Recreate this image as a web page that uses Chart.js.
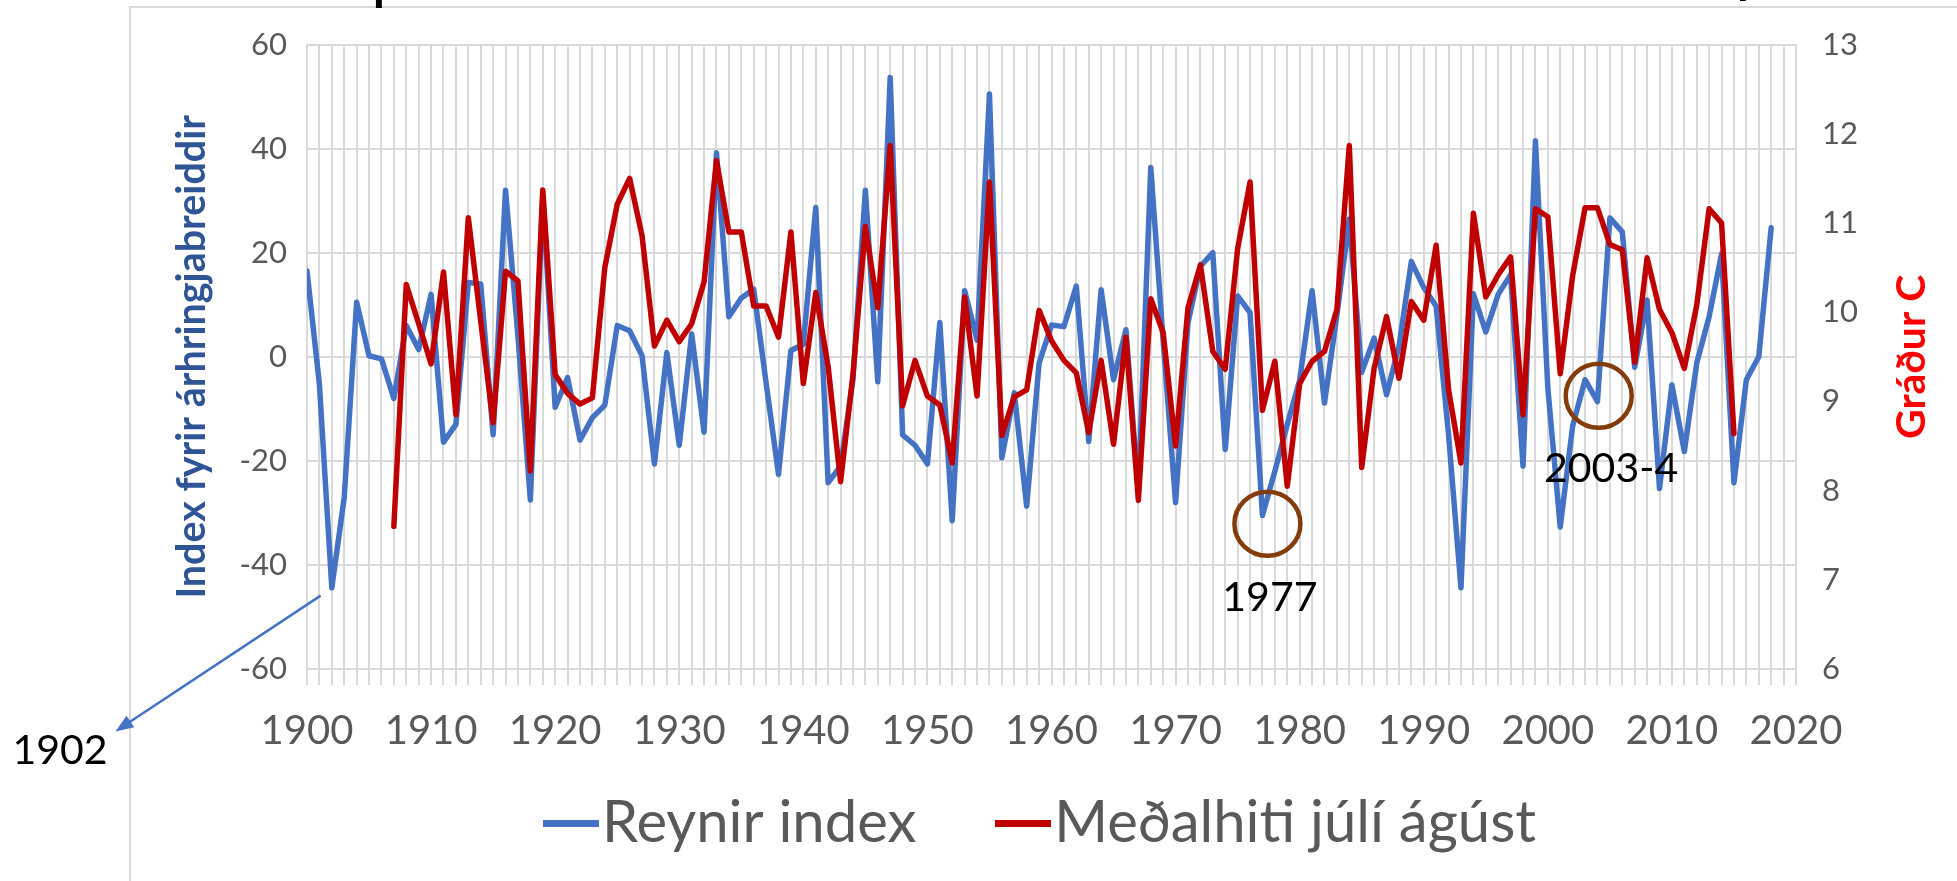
<!DOCTYPE html>
<html>
<head>
<meta charset="utf-8">
<script src="https://cdn.jsdelivr.net/npm/chart.js@4.4.0/dist/chart.umd.min.js"></script>
<style>
html,body{margin:0;padding:0;background:#ffffff;}
#wrap{width:1957px;height:881px;position:relative;}
</style>
</head>
<body>
<div id="wrap"><canvas id="c"></canvas></div>
<script>
// ---------- data ----------
const seriesNames = ['Reynir index', 'Meðalhiti júlí ágúst'];
const seriesColors = ['#4472C4', '#C00000'];
const axisTitleLeft = 'Index fyrir árhringjabreiddir';
const axisTitleRight = 'Gráður C';

const reynirStartYear = 1900;
const reynirIndex = [
  16.5, -5.3, -44.4, -27, 10.5, 0.2, -0.4, -8, 6, 1.4,          // 1900-1909
  12, -16.4, -13, 14.3, 14, -15, 32, 4, -27.5, 31,              // 1910-1919
  -9.7, -4, -16, -11.7, -9.3, 6, 5, 0.2, -20.6, 0.8,            // 1920-1929
  -17, 4.4, -14.5, 39.2, 7.7, 11.3, 13, -5, -22.6, 1.2,         // 1930-1939
  2.4, 28.7, -24.2, -21, -4.4, 32, -4.8, 53.7, -15, -17,        // 1940-1949
  -20.6, 6.6, -31.5, 12.7, 3.2, 50.5, -19.4, -6.9, -28.7, -1.2, // 1950-1959
  6.1, 5.8, 13.6, -16.3, 12.9, -4.4, 5.2, -26, 36.4, 3,         // 1960-1969
  -28, 6.5, 17.4, 20, -17.8, 11.7, 8.5, -30.5, -22, -13,        // 1970-1979
  -4.5, 12.7, -8.9, 8, 26.5, -3, 3.6, -7.3, 2, 18.3,            // 1980-1989
  13.3, 9.7, -15, -44.4, 12.1, 4.8, 12, 15.8, -21, 41.5,        // 1990-1999
  -6, -32.7, -13.3, -4.4, -8.6, 26.7, 24, -2, 10.9, -25.3,      // 2000-2009
  -5.4, -18.2, -1.2, 7.7, 19.8, -24.2, -4.4, 0, 24.8            // 2010-2018
];

const hitiStartYear = 1907;
const medalhiti = [
  7.60, 10.31, 9.87,                                            // 1907-1909
  9.42, 10.45, 8.85, 11.06, 9.90, 8.76, 10.46, 10.35, 8.22, 11.37, // 1910-1919
  9.30, 9.09, 8.97, 9.04, 10.50, 11.21, 11.50, 10.86, 9.62, 9.91,  // 1920-1929
  9.67, 9.87, 10.34, 11.70, 10.90, 10.90, 10.07, 10.07, 9.72, 10.90, // 1930-1939
  9.20, 10.22, 9.39, 8.10, 9.30, 10.96, 10.05, 11.87, 8.95, 9.46,  // 1940-1949
  9.06, 8.96, 8.31, 10.17, 9.06, 11.46, 8.62, 9.05, 9.13, 10.02,   // 1950-1959
  9.68, 9.46, 9.32, 8.65, 9.46, 8.52, 9.72, 7.89, 10.15, 9.77,     // 1960-1969
  8.50, 10.05, 10.53, 9.56, 9.36, 10.71, 11.46, 8.90, 9.45, 8.05,  // 1970-1979
  9.20, 9.45, 9.56, 10.03, 11.87, 8.26, 9.37, 9.95, 9.26, 10.12,   // 1980-1989
  9.91, 10.75, 9.13, 8.31, 11.11, 10.17, 10.42, 10.62, 8.85, 11.16, // 1990-1999
  11.07, 9.31, 10.41, 11.17, 11.17, 10.76, 10.70, 9.44, 10.61, 10.03, // 2000-2009
  9.77, 9.37, 10.08, 11.16, 11.00, 8.64                            // 2010-2015
];

const xRange = [1900, 2020];
const leftRange = [-60, 60];
const rightRange = [6, 13];

// annotation anchors in data units (year, index value)
const circleNotes = [
  { label: '1977',   cx: 1977.4, cy: -32.1, lx: 1977.6, ly: -46.3 },
  { label: '2003-4', cx: 2004.1, cy: -7.5,  lx: 2005.1, ly: -21.5 }
];
const arrowNote = { label: '1902', from: [1901.1, -45.9], to: [1884.56, -72.0], text: [1880.1, -75.7] };

// ---------- build ----------
const FONT = 'Lato, "Open Sans", sans-serif';
const LEGEND_PAD = 105;
const LEGEND_FONT = 58;
const reynirPoints = reynirIndex.map((v, i) => ({ x: reynirStartYear + i, y: v }));
const hitiPoints = medalhiti.map((v, i) => ({ x: hitiStartYear + i, y: v }));

// legend line swatches
const legendSwatches = seriesColors.map(col => {
  const cv = document.createElement('canvas');
  cv.width = 56; cv.height = 7;
  const g = cv.getContext('2d');
  g.fillStyle = col;
  g.fillRect(0, 0, 56, 7);
  return cv;
});

const decor = {
  id: 'decor',
  afterLayout(chart) {
    // place legend row centre 154px below the plot area
    const lg = chart.legend;
    if (lg) {
      lg.top = chart.chartArea.bottom + 154 - LEGEND_PAD - LEGEND_FONT / 2;
      lg.bottom = chart.height;
      lg.height = lg.bottom - lg.top;
    }
  },
  beforeDraw(chart) {
    const ctx = chart.ctx;
    ctx.save();
    ctx.strokeStyle = '#D9D9D9';
    ctx.lineWidth = 2;
    ctx.beginPath();
    ctx.moveTo(130, 881);
    ctx.lineTo(130, 7);
    ctx.lineTo(1957, 7);
    ctx.stroke();
    ctx.fillStyle = '#000000';
    ctx.font = 'bold 48px ' + FONT;
    ctx.textBaseline = 'alphabetic';
    ctx.fillText('p', 373, 0);
    ctx.fillText('p', 1737, -7);
    ctx.restore();
  },
  afterDraw(chart) {
    const ctx = chart.ctx;
    const xs = chart.scales.x, ys = chart.scales.y, y1 = chart.scales.y1;
    ctx.save();
    circleNotes.forEach(n => {
      const cx = xs.getPixelForValue(n.cx), cy = ys.getPixelForValue(n.cy);
      ctx.strokeStyle = '#843C0C';
      ctx.lineWidth = 4.5;
      ctx.beginPath();
      ctx.ellipse(cx, cy, 33, 32, 0, 0, Math.PI * 2);
      ctx.stroke();
      ctx.fillStyle = '#000000';
      ctx.font = '41px ' + FONT;
      ctx.textAlign = 'center';
      ctx.textBaseline = 'middle';
      ctx.fillText(n.label, xs.getPixelForValue(n.lx), ys.getPixelForValue(n.ly));
    });
    const ax0 = xs.getPixelForValue(arrowNote.from[0]), ay0 = ys.getPixelForValue(arrowNote.from[1]);
    const ax1 = xs.getPixelForValue(arrowNote.to[0]), ay1 = ys.getPixelForValue(arrowNote.to[1]);
    const ang = Math.atan2(ay1 - ay0, ax1 - ax0);
    const hl = 18, hw = 7;
    ctx.strokeStyle = '#4472C4';
    ctx.fillStyle = '#4472C4';
    ctx.lineWidth = 2.5;
    ctx.beginPath();
    ctx.moveTo(ax0, ay0);
    ctx.lineTo(ax1 - Math.cos(ang) * hl * 0.8, ay1 - Math.sin(ang) * hl * 0.8);
    ctx.stroke();
    ctx.beginPath();
    ctx.moveTo(ax1, ay1);
    ctx.lineTo(ax1 - Math.cos(ang) * hl - Math.sin(ang) * hw, ay1 - Math.sin(ang) * hl + Math.cos(ang) * hw);
    ctx.lineTo(ax1 - Math.cos(ang) * hl + Math.sin(ang) * hw, ay1 - Math.sin(ang) * hl - Math.cos(ang) * hw);
    ctx.closePath();
    ctx.fill();
    ctx.fillStyle = '#000000';
    ctx.font = '41px ' + FONT;
    ctx.textAlign = 'center';
    ctx.textBaseline = 'middle';
    ctx.fillText(arrowNote.label, xs.getPixelForValue(arrowNote.text[0]), ys.getPixelForValue(arrowNote.text[1]));
    ctx.translate(y1.left + 116, (y1.top + y1.bottom) / 2);
    ctx.rotate(-Math.PI / 2);
    ctx.fillStyle = '#FF0000';
    ctx.font = 'bold 41px ' + FONT;
    ctx.textAlign = 'center';
    ctx.textBaseline = 'middle';
    ctx.fillText(axisTitleRight, 0, 0);
    ctx.restore();
  }
};

Chart.defaults.font.family = FONT;

new Chart(document.getElementById('c'), {
  type: 'line',
  data: {
    datasets: [
      { label: seriesNames[0], data: reynirPoints, yAxisID: 'y', borderColor: seriesColors[0], backgroundColor: seriesColors[0],
        borderWidth: 5.5, pointRadius: 0, pointHoverRadius: 0, tension: 0, fill: false, order: 2,
        borderJoinStyle: 'round', borderCapStyle: 'round' },
      { label: seriesNames[1], data: hitiPoints, yAxisID: 'y1', borderColor: seriesColors[1], backgroundColor: seriesColors[1],
        borderWidth: 5.5, pointRadius: 0, pointHoverRadius: 0, tension: 0, fill: false, order: 1,
        borderJoinStyle: 'round', borderCapStyle: 'round' }
    ]
  },
  options: {
    responsive: true,
    maintainAspectRatio: false,
    animation: false,
    devicePixelRatio: 1,
    layout: { padding: { left: 148, right: 0, top: 44, bottom: 19 } },
    plugins: {
      tooltip: { enabled: false },
      legend: {
        position: 'bottom',
        align: 'center',
        maxHeight: 109,
        labels: {
          usePointStyle: true,
          pointStyleWidth: 4,
          padding: LEGEND_PAD,
          color: '#595959',
          font: { family: FONT, size: LEGEND_FONT },
          sort: (a, b) => a.datasetIndex - b.datasetIndex,
          generateLabels: (chart) => Chart.defaults.plugins.legend.labels.generateLabels(chart)
            .map(l => Object.assign(l, { pointStyle: legendSwatches[l.datasetIndex] }))
        }
      }
    },
    scales: {
      x: {
        type: 'linear',
        min: xRange[0], max: xRange[1],
        ticks: {
          stepSize: 1, maxTicksLimit: 500, autoSkip: false, maxRotation: 0, minRotation: 0,
          padding: 22, color: '#595959', font: { family: FONT, size: 40 },
          callback: (v) => (Math.round(v) % 10 === 0 ? String(Math.round(v)) : '')
        },
        grid: { color: '#D9D9D9', lineWidth: 2, drawTicks: true, tickLength: 16, tickColor: '#D9D9D9', tickWidth: 2 },
        border: { display: false },
        afterFit: (s) => { s.height = 84; }
      },
      y: {
        position: 'left',
        min: leftRange[0], max: leftRange[1],
        ticks: { stepSize: 20, padding: 20, color: '#595959', font: { family: FONT, size: 31 } },
        grid: { color: '#D9D9D9', lineWidth: 2, drawTicks: false },
        border: { display: false },
        title: { display: true, text: axisTitleLeft, color: '#2F5597',
                 font: { family: FONT, size: 39.5, weight: 'bold' }, padding: { top: 21, bottom: 0 } },
        afterFit: (s) => { s.width = 159; }
      },
      y1: {
        position: 'right',
        min: rightRange[0], max: rightRange[1],
        ticks: { stepSize: 1, padding: 26, color: '#595959', font: { family: FONT, size: 31 } },
        grid: { display: false, drawTicks: false },
        border: { display: false },
        afterFit: (s) => { s.width = 161; }
      }
    }
  },
  plugins: [decor]
});
</script>
</body>
</html>
